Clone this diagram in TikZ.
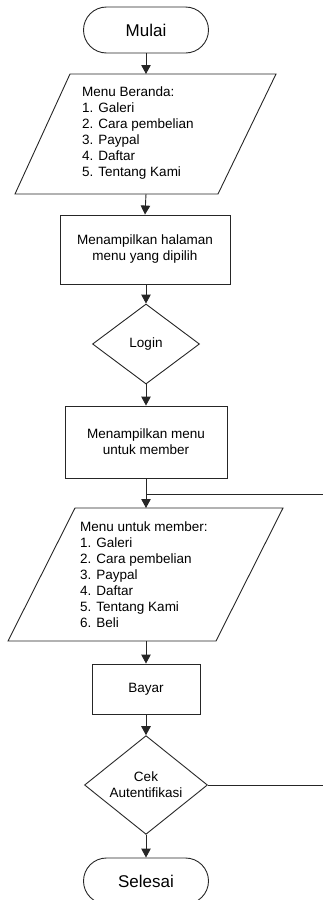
\documentclass[tikz,border=0pt]{standalone}
\usepackage{fontspec}
\setmainfont{Liberation Sans}
\usetikzlibrary{shapes.geometric,arrows.meta}
\begin{document}
\begin{tikzpicture}[x=1pt,y=-1pt,
  every node/.style={font=\fontsize{13.5}{16}\selectfont},
  ln/.style={line width=0.9pt,draw=black!85},
  arr/.style={ln,-{Triangle[length=9pt,width=9.5pt]}},
  term/.style={ln,rectangle,rounded corners=23pt,minimum width=125pt,minimum height=46pt,inner sep=0pt,font=\fontsize{17}{20}\selectfont},
  proc/.style={ln,rectangle,inner sep=0pt,align=center},
  dec/.style={ln,diamond,inner sep=0pt,align=center},
  io/.style={ln}
]
\useasboundingbox (0,0) rectangle (323,900);
% terminators
\node[term] (mulai) at (146,30) {Mulai};
\node[term] (selesai) at (146,881) {Selesai};
% parallelogram 1
\draw[io] (70,74) -- (276,74) -- (218,194) -- (15,194) -- cycle;
\coordinate (p1t) at (146,74);
\coordinate (p1b) at (146,194);
\node[anchor=west,align=left,inner sep=0pt] (menu1) at (82,133.5) {Menu Beranda:\\1. Galeri\\2. Cara pembelian\\3. Paypal\\4. Daftar\\5. Tentang Kami};
% process 2
\node[proc,minimum width=170pt,minimum height=69pt] (tampil) at (145,249.5) {Menampilkan halaman\\menu yang dipilih};
% login
\node[dec,minimum width=107pt,minimum height=80pt] (login) at (146,344) {Login};
% process 3
\node[proc,minimum width=162pt,minimum height=72pt] (member) at (146,442) {Menampilkan menu\\untuk member};
% parallelogram 2
\draw[io] (75,508) -- (283,508) -- (216,641) -- (8,641) -- cycle;
\coordinate (p2t) at (146,508);
\coordinate (p2b) at (146,641);
\coordinate (j) at (146,494);
\node[anchor=west,align=left,inner sep=0pt] (menu2) at (80,575) {Menu untuk member:\\1. Galeri\\2. Cara pembelian\\3. Paypal\\4. Daftar\\5. Tentang Kami\\6. Beli};
% bayar
\node[proc,minimum width=108pt,minimum height=50pt] (bayar) at (146,689) {Bayar};
% cek
\node[dec,minimum width=123pt,minimum height=92pt] (cek) at (146,785) {Cek\\Autentifikasi};
\coordinate (loopa) at (326,785);
\coordinate (loopb) at (326,494);
% connectors
\draw[arr] (mulai.south) -- (p1t);
\draw[arr] (p1b) -- (tampil.south |- tampil.north);
\draw[arr] (tampil.south -| login.north) -- (login.north);
\draw[arr] (login.south) -- (member.north);
\draw[arr] (member.south) -- (p2t);
\draw[arr] (p2b) -- (bayar.north);
\draw[arr] (bayar.south) -- (cek.north);
\draw[arr] (cek.south) -- (selesai.north);
\draw[ln] (cek.east) -- (loopa) -- (loopb) -- (j);
\end{tikzpicture}
\end{document}
